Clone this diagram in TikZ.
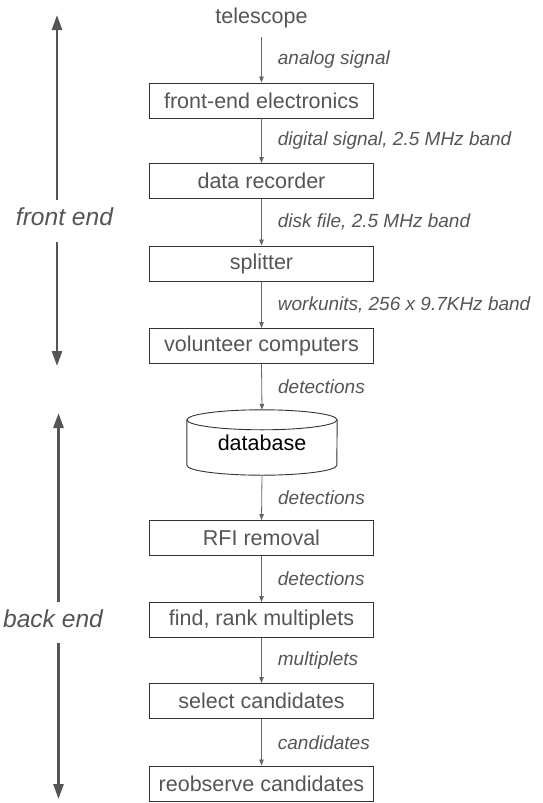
\documentclass[tikz,border=0pt]{standalone}
\usepackage{fontspec}
\setmainfont{Liberation Sans}
\usetikzlibrary{arrows.meta,calc}
\definecolor{txtgray}{HTML}{555555}
\definecolor{boxgray}{HTML}{333333}
\definecolor{linegray}{HTML}{666666}
\definecolor{biggray}{HTML}{555555}
\begin{document}
\begin{tikzpicture}[x=1pt,y=-1pt,
  stage/.style={draw=boxgray, line width=0.9pt, minimum width=224pt, minimum height=35pt, inner sep=0pt,
    text=txtgray, font=\fontsize{21.5}{24}\selectfont},
  conn/.style={draw=linegray, line width=0.8pt, -{Triangle[length=6pt,width=4.5pt]}},
  lbl/.style={anchor=west, xshift=16pt, text=txtgray, font=\fontsize{19}{22}\selectfont\itshape, inner sep=0pt},
  side/.style={text=txtgray, font=\fontsize{24.6}{28}\selectfont\itshape, inner sep=0pt},
  bigarrow/.style={draw=biggray, line width=2.6pt, -{Triangle[length=15pt,width=10pt]}}
]
\useasboundingbox (0,0) rectangle (542,803);

\node[minimum height=38pt, inner sep=0pt, text=txtgray, font=\fontsize{21.5}{24}\selectfont] (tel) at (261.5,18) {telescope};
\node[stage] (fee) at (261.5,100.5) {front-end electronics};
\node[stage] (rec) at (261.5,181) {data recorder};
\node[stage] (spl) at (261.5,263.5) {splitter};
\node[stage] (vol) at (261.5,346) {volunteer computers};
\node[minimum width=150pt, minimum height=65pt, inner sep=0pt, font=\fontsize{21.5}{24}\selectfont] (db) at (262,442.5) {database};
\node[stage] (rfi) at (261.5,538) {RFI removal};
\node[stage] (mul) at (261.5,620) {find, rank multiplets};
\node[stage] (sel) at (261.5,701) {select candidates};
\node[stage] (reo) at (261.5,783.5) {reobserve candidates};

% database cylinder
\draw[boxgray, line width=0.9pt] ($(db.north west)+(0,10)$) -- ($(db.south west)+(0,-10)$)
  arc[start angle=180, end angle=360, x radius=75pt, y radius=10pt]
  -- ($(db.north east)+(0,10)$);
\draw[boxgray, line width=0.9pt] ($(db.north)+(0,10)$) ellipse [x radius=75pt, y radius=10pt];

\draw[conn] (tel.south) -- (fee.north) node[midway, lbl] {analog signal};
\draw[conn] (fee.south) -- (rec.north) node[midway, lbl] {digital signal, 2.5 MHz band};
\draw[conn] (rec.south) -- (spl.north) node[midway, lbl] {disk file, 2.5 MHz band};
\draw[conn] (spl.south) -- (vol.north) node[midway, lbl] {workunits, 256 x 9.7KHz band};
\draw[conn] (vol.south) -- (db.north) node[midway, lbl] {detections};
\draw[conn] (db.south) -- (rfi.north) node[midway, lbl] {detections};
\draw[conn] (rfi.south) -- (mul.north) node[midway, lbl] {detections};
\draw[conn] (mul.south) -- (sel.north) node[midway, lbl] {multiplets};
\draw[conn] (sel.south) -- (reo.north) node[midway, lbl] {candidates};

% side labels and arrows
\node[side] (fe) at (64.5,217) {front end};
\node[side] (be) at (53,619) {back end};
\coordinate (fetop) at (57,15);
\coordinate (fea) at (57,200);
\coordinate (feb) at (57,242);
\coordinate (febot) at (57,366);
\coordinate (betop) at (58.5,413);
\coordinate (bea) at (58.5,602);
\coordinate (beb) at (58.5,643);
\coordinate (bebot) at (58.5,799);
\draw[bigarrow] (fea) -- (fetop);
\draw[bigarrow] (feb) -- (febot);
\draw[bigarrow] (bea) -- (betop);
\draw[bigarrow] (beb) -- (bebot);
\end{tikzpicture}
\end{document}
